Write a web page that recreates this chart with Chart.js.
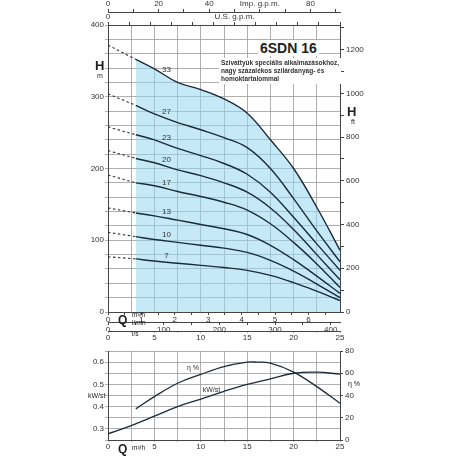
<!DOCTYPE html>
<html>
<head>
<meta charset="utf-8">
<script src="https://cdn.jsdelivr.net/npm/chart.js@4.4.1/dist/chart.umd.min.js"></script>
<style>
  body { margin: 0; background: #fff; font-family: 'Liberation Sans', Arial, sans-serif; }
  #wrap { position: relative; width: 456px; height: 456px; }
  canvas { position: absolute; left: 0; }
  .t { position: absolute; color: #222; white-space: nowrap; }
</style>
</head>
<body>
<div id="wrap">
  <canvas id="chart-h" style="top:0" width="456" height="340"></canvas>
  <canvas id="chart-p" style="top:340px" width="456" height="116"></canvas>
  <div class="t" style="left:258px;top:40px;font-size:14px;font-weight:bold;background:#fff;padding:0 2px">6SDN 16</div>
  <div class="t" style="left:219px;top:58px;font-size:6.5px;font-weight:bold;line-height:8px;background:#fff;padding:1px 2px;color:#333">Szivattyúk speciális alkalmazásokhoz,<br>nagy százalékos szilárdanyag- és<br>homoktartalommal</div>
  <div class="t" style="left:95px;top:58px;font-size:13px;font-weight:bold">H</div>
  <div class="t" style="left:97px;top:72px;font-size:7px">m</div>
  <div class="t" style="left:347px;top:104px;font-size:13px;font-weight:bold">H</div>
  <div class="t" style="left:351px;top:118px;font-size:7px">ft</div>
  <div class="t" style="left:118px;top:313px;font-size:12px;font-weight:bold">Q</div>
  <div class="t" style="left:132px;top:311px;font-size:6.5px">m³/h</div>
  <div class="t" style="left:132px;top:319px;font-size:6.5px">l/min</div>
  <div class="t" style="left:132px;top:330px;font-size:6.5px">l/s</div>
  <div class="t" style="left:88px;top:392px;font-size:7px">kW/st</div>
  <div class="t" style="left:348px;top:380px;font-size:7px">η %</div>
  <div class="t" style="left:118px;top:442px;font-size:12px;font-weight:bold">Q</div>
  <div class="t" style="left:132px;top:444px;font-size:6.5px">m³/h</div>
</div>
<script>
// Q, m3/h
const Q_DASH = [0, 3];
const Q      = [3, 5, 7.5, 10, 12.5, 15, 17.5, 20, 22.5, 25];

// H, m (fokozatszám szerint)
const STAGES = ['33', '27', '23', '20', '17', '13', '10', '7'];
const H_DASH = {
  '33': [372, 352], '27': [304, 288], '23': [258, 247], '20': [225, 214],
  '17': [191, 180], '13': [145, 138], '10': [111, 105], '7': [77, 74],
};
const H = {
  '33': [352, 339, 320, 310, 297, 277, 240, 200, 146, 86],
  '27': [288, 276, 264, 254, 243, 229, 200, 158, 113, 70],
  '23': [247, 240, 228, 218, 207, 192, 167, 132, 95, 58],
  '20': [214, 208, 198, 190, 180, 167, 145, 115, 80, 45],
  '17': [180, 176, 168, 161, 153, 142, 123, 97, 67, 34],
  '13': [138, 134, 128, 122, 116, 108, 93, 73, 50, 26],
  '10': [105, 101, 97, 93, 89, 83, 72, 57, 39, 20],
  '7':  [74, 71, 68, 65, 62, 58, 51, 41, 29, 16],
};
const LABEL_Q = 6.3;

// teljesítmény / hatásfok
const Q_KW  = [0, 2.5, 5, 7.5, 10, 12.5, 15, 17.5, 20, 22.5, 25];
const KW    = [0.278, 0.315, 0.357, 0.40, 0.434, 0.469, 0.50, 0.525, 0.55, 0.555, 0.546];
const Q_ETA = [3, 5, 7.5, 10, 12.5, 15, 16, 17.5, 20, 22.5, 25];
const ETA   = [28, 39, 51, 59, 66, 70, 70, 69, 61, 48, 33];

const FONT = { family: 'Liberation Sans', size: 8 };
const GRID = '#9a9a9a';
const INK  = '#1c2b3a';
const TXT  = '#333';

const pts = (xs, ys) => xs.map((x, i) => ({ x, y: ys[i] }));
const fixW = w => s => { s.width = w; };
const fixH = h => s => { s.height = h; };
const every = n => v => {
  const r = Math.round(v);
  return Math.abs(v - r) < 1e-6 && r % n === 0 ? r : '';
};

const datasets = [{
  // kék terület a 33-as görbe alatt
  data: pts(Q, H['33']), borderWidth: 0, pointRadius: 0, tension: 0.4,
  fill: 'origin', backgroundColor: 'rgba(150,215,240,0.55)', order: 99,
}];
STAGES.forEach(st => {
  datasets.push({
    data: pts(Q, H[st]), borderColor: INK, borderWidth: 1.4, pointRadius: 0, tension: 0.4, fill: false, order: 1,
  });
  datasets.push({
    data: pts(Q_DASH, H_DASH[st]), borderColor: '#333', borderWidth: 1.1, pointRadius: 0,
    borderDash: [2.5, 2.5], fill: false, order: 1,
  });
});

const stageLabels = {
  id: 'stageLabels',
  afterDatasetsDraw(chart) {
    const { ctx, scales: { x, y } } = chart;
    ctx.save();
    ctx.font = '8px Liberation Sans';
    ctx.fillStyle = TXT;
    ctx.textAlign = 'center';
    STAGES.forEach(st => {
      const hs = H[st];
      const h = hs[1] + (hs[2] - hs[1]) * (LABEL_Q - 5) / 2.5;
      ctx.fillText(st, x.getPixelForValue(LABEL_Q), y.getPixelForValue(h) - 4);
    });
    ctx.restore();
  }
};

const tickAx = (min, max, step, pos, show, h, weight) => ({
  type: 'linear', position: pos, min, max, weight,
  afterFit: fixH(h),
  border: { display: true, color: '#444' },
  grid: { drawOnChartArea: false, tickLength: 3, color: '#444' },
  ticks: { stepSize: step, includeBounds: false, font: FONT, color: TXT, padding: 0, maxRotation: 0, minRotation: 0,
           autoSkip: false, callback: show },
});

new Chart(document.getElementById('chart-h'), {
  type: 'line',
  data: { datasets },
  plugins: [stageLabels],
  options: {
    responsive: false, animation: false,
    plugins: { legend: { display: false }, tooltip: { enabled: false } },
    scales: {
      x: {
        type: 'linear', position: 'bottom', min: 0, max: 25, afterFit: fixH(9), weight: 3,
        border: { color: '#444' },
        grid: { color: GRID, lineWidth: 0.8, tickLength: 2 },
        ticks: { stepSize: 2.5, font: FONT, color: TXT, padding: 0, maxRotation: 0, autoSkip: false,
                 callback: v => v % 5 === 0 ? v : '' },
      },
      lmin: tickAx(0, 25 * 1000 / 60, 50, 'bottom', every(100), 9, 2),
      ls: tickAx(0, 25 / 3.6, 0.5, 'bottom', every(1), 10, 1),
      usg: tickAx(0, 25 * 4.4029, 10, 'top', v => Math.round(v) === 60 ? 'U.S. g.p.m.' : every(20)(v), 13, 1),
      img: tickAx(0, 25 * 3.6662, 10, 'top', v => Math.round(v) === 60 ? 'Imp. g.p.m.' : every(20)(v), 12, 2),
      y: {
        type: 'linear', position: 'left', min: 0, max: 400, afterFit: fixW(108),
        border: { color: '#444' },
        grid: { color: GRID, lineWidth: 0.8, tickLength: 3 },
        ticks: { stepSize: 20, font: FONT, color: TXT, padding: 1, autoSkip: false, callback: every(100) },
      },
      ft: {
        type: 'linear', position: 'right', min: 0, max: 400 / 0.3048, afterFit: fixW(116),
        border: { color: '#444' },
        grid: { drawOnChartArea: false, tickLength: 4, color: '#444' },
        ticks: { stepSize: 100, includeBounds: false, font: FONT, color: TXT, padding: 2, autoSkip: false,
                 callback: every(200) },
      },
    },
  },
});

new Chart(document.getElementById('chart-p'), {
  type: 'line',
  data: {
    datasets: [
      { data: pts(Q_KW, KW), yAxisID: 'y', borderColor: INK, borderWidth: 1.3, pointRadius: 0, tension: 0.4 },
      { data: pts(Q_ETA, ETA), yAxisID: 'eta', borderColor: INK, borderWidth: 1.3, pointRadius: 0, tension: 0.4 },
    ],
  },
  plugins: [{
    id: 'curveNames',
    afterDatasetsDraw(chart) {
      const { ctx, scales: { x, y, eta } } = chart;
      ctx.save();
      ctx.font = '7px Liberation Sans';
      ctx.fillStyle = TXT;
      ctx.fillText('η %', x.getPixelForValue(8.5), eta.getPixelForValue(63));
      ctx.fillText('kW/st', x.getPixelForValue(10.2), y.getPixelForValue(0.465));
      ctx.restore();
    }
  }],
  options: {
    responsive: false, animation: false,
    layout: { padding: { top: 11, bottom: 0 } },
    plugins: { legend: { display: false }, tooltip: { enabled: false } },
    scales: {
      x: {
        type: 'linear', min: 0, max: 25, afterFit: fixH(16),
        border: { color: '#444' },
        grid: { color: GRID, lineWidth: 0.8, tickLength: 2 },
        ticks: { stepSize: 2.5, font: FONT, color: TXT, padding: 0, maxRotation: 0, autoSkip: false,
                 callback: v => v % 5 === 0 ? v : '' },
      },
      y: {
        type: 'linear', position: 'left', min: 0.25, max: 0.65, afterFit: fixW(108),
        border: { color: '#444' },
        grid: { color: GRID, lineWidth: 0.8, tickLength: 3 },
        ticks: { stepSize: 0.05, font: FONT, color: TXT, padding: 1, autoSkip: false,
                 callback: v => (Math.round(v * 100) % 10 === 0 && v > 0.26 && v < 0.64) ? v.toFixed(1) : '' },
      },
      eta: {
        type: 'linear', position: 'right', min: 0, max: 80, afterFit: fixW(116),
        border: { color: '#444' },
        grid: { drawOnChartArea: false, tickLength: 3, color: '#444' },
        ticks: { stepSize: 20, font: FONT, color: TXT, padding: 2 },
      },
    },
  },
});
</script>
</body>
</html>
